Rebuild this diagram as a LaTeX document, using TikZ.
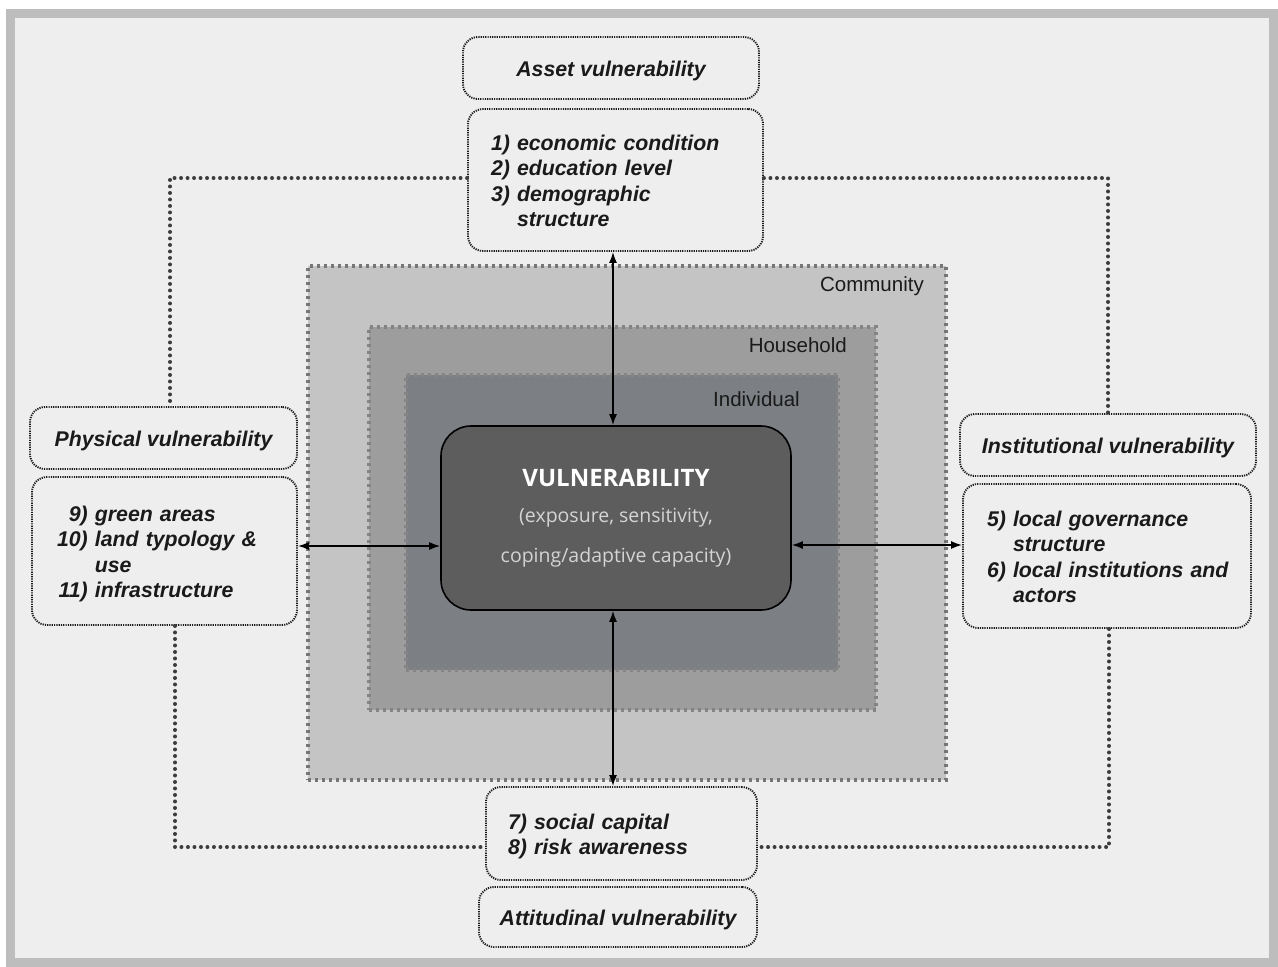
\documentclass[tikz,border=0pt]{standalone}
\usepackage{fontspec}
\usetikzlibrary{arrows.meta}
\newfontfamily\arialf{Liberation Sans}
\newfontfamily\osans{Open Sans}
\definecolor{framegray}{HTML}{BDBDBD}
\definecolor{paper}{HTML}{EEEEEE}
\definecolor{commfill}{HTML}{C4C4C4}
\definecolor{housefill}{HTML}{9D9D9D}
\definecolor{indfill}{HTML}{7C7F83}
\definecolor{corefill}{HTML}{5D5D5D}
\definecolor{dotgray}{HTML}{767676}
\definecolor{ink}{HTML}{1A1A1A}
\definecolor{subgray}{HTML}{D4D4D4}
\tikzset{
  x=1pt, y=-1pt,
  vbox/.style={draw=ink, line width=1.9pt, dash pattern=on 1.2pt off 1.1pt,
    rounded corners=15pt, fill=paper, inner ysep=0pt},
  titlebox/.style={vbox, align=center, font=\arialf\bfseries\itshape\fontsize{21.3}{25.5}\selectfont, text=ink},
  itembox/.style={vbox, align=left, font=\arialf\bfseries\itshape\fontsize{21.3}{25.5}\selectfont, text=ink},
  layer/.style={draw=dotgray, line width=3.2pt, dash pattern=on 3pt off 4pt, inner sep=0pt},
  layerlabel/.style={font=\arialf\fontsize{20.5}{24}\selectfont, text=ink, anchor=east, inner sep=0pt},
  conn/.style={draw=ink!85, line width=4pt, line cap=round, dash pattern=on 0pt off 6.5pt},
  arr/.style={draw=black, line width=1.6pt, {Latex[length=11pt,width=8pt]}-{Latex[length=11pt,width=8pt]}},
}
\newcommand{\itemtab}[1]{\raisebox{-3.5pt}[\height][\depth]{\begin{tabular}{@{}r@{\ }l@{}}#1\end{tabular}}}
\newcommand{\lowered}[1]{\raisebox{-2.5pt}[\height][\depth]{#1}}
\begin{document}
\begin{tikzpicture}
\useasboundingbox (0,0) rectangle (1278,967);
\fill[white] (0,0) rectangle (1278,967);
\draw[framegray, line width=9pt, fill=paper] (10,13) rectangle (1273,962);

% nested layers
\node[layer, fill=commfill, minimum width=638pt, minimum height=514pt] (community) at (627,523) {};
\node[layer, fill=housefill, draw=dotgray!90, minimum width=507pt, minimum height=383pt] (household) at (622.5,518.5) {};
\node[layer, fill=indfill, draw=housefill!85!black, minimum width=432pt, minimum height=295pt] (individual) at (622,522.5) {};
\node[layerlabel] (commlabel) at (924,286) {Community};
\node[layerlabel] (houselabel) at (847,345) {Household};
\node[layerlabel] (indlabel) at (800,399) {Individual};

% core
\node[draw=black, line width=1.6pt, fill=corefill, rounded corners=30pt,
  minimum width=350pt, minimum height=184pt, inner sep=0pt] (core) at (616,518) {};
\node[font=\osans\bfseries\fontsize{24}{28}\selectfont, text=white, inner sep=0pt] (coretitle) at (616,478) {VULNERABILITY};
\node[font=\osans\fontsize{19.5}{40}\selectfont, text=subgray, align=center, inner sep=0pt] (coresub) at (616,538)
  {(exposure, sensitivity,\\coping/adaptive capacity)};

% top
\node[titlebox, minimum width=296pt, minimum height=62pt] (asset) at (611,68) {\lowered{Asset vulnerability}};
\node[itembox, text width=249pt, inner xsep=23pt, minimum height=142pt] (assetitems) at (615.5,180)
  {\itemtab{1) & economic condition\\ 2) & education level\\ 3) & demographic\\ & structure}};

% left
\node[titlebox, minimum width=267pt, minimum height=62pt] (phys) at (163.5,438) {\lowered{Physical vulnerability}};
\node[itembox, text width=215pt, inner xsep=25pt, minimum height=148pt] (physitems) at (164.5,551)
  {\itemtab{9) & green areas\\ 10) & land typology \&\\ & use\\ 11) & infrastructure}};

% right
\node[titlebox, minimum width=296pt, minimum height=62pt] (inst) at (1108,445) {\lowered{Institutional vulnerability}};
\node[itembox, text width=240pt, inner xsep=24pt, minimum height=144pt] (institems) at (1107,556)
  {\itemtab{5) & local governance\\ & structure\\ 6) & local institutions and\\ & actors}};

% bottom
\node[itembox, text width=227pt, inner xsep=22pt, minimum height=93pt] (social) at (621.5,833.5)
  {\itemtab{7) & social capital\\ 8) & risk awareness}};
\node[titlebox, minimum width=278pt, minimum height=60pt] (attit) at (618,917) {\lowered{Attitudinal vulnerability}};

% dotted connectors
\draw[conn] ([yshift=2pt]assetitems.west) -| ([xshift=6.5pt]phys.north);
\draw[conn] ([yshift=2pt]assetitems.east) -| (inst.north);
\draw[conn] ([xshift=10.5pt]physitems.south) |- ([yshift=-13.5pt]social.west);
\draw[conn] ([xshift=2pt]institems.south) |- ([yshift=-13.5pt]social.east);

% arrows
\draw[arr] ([xshift=-2.5pt]assetitems.south) -- ([xshift=-2.5pt]assetitems.south |- core.north);
\draw[arr] ([xshift=-3pt]core.south) -- ([xshift=-3pt]core.south |- social.north);
\draw[arr] ([yshift=5pt]physitems.east) -- ([yshift=5pt]physitems.east -| core.west);
\draw[arr] ([yshift=11pt]institems.west) -- ([yshift=11pt]institems.west -| core.east);
\end{tikzpicture}
\end{document}
